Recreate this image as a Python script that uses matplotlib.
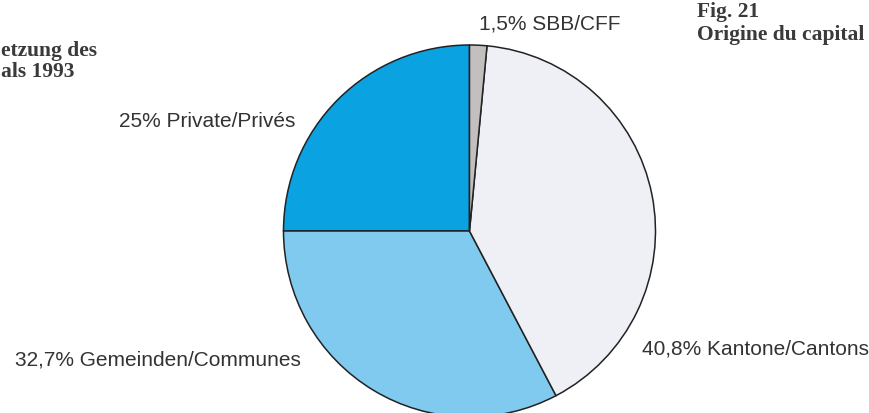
"""Kapital 1993 pie chart."""
import matplotlib
matplotlib.use("Agg")
import matplotlib.pyplot as plt

W, H = 869, 414

shares = [25.0, 32.7, 40.8, 1.5]
labels = ["25% Private/Privés", "32,7% Gemeinden/Communes",
          "40,8% Kantone/Cantons", "1,5% SBB/CFF"]
colors = ["#0ba2e2", "#80c9ef", "#eef0f6", "#c3bfbe"]

fig = plt.figure(figsize=(W / 100, H / 100), dpi=100)
ax = fig.add_axes([0, 0, 1, 1])
# y axis is inverted (pixel coords), so angles run mirrored:
# start at data -90 (= screen top) and go clockwise in data (= ccw on screen)
ax.pie(shares, colors=colors, startangle=-90, counterclock=False,
       center=(469.5, 232), radius=186,
       wedgeprops=dict(edgecolor="#222222", linewidth=1.1))
ax.set_xlim(0, W)
ax.set_ylim(H, 0)
ax.set_aspect("equal")
ax.axis("off")

sans = ["Liberation Sans", "DejaVu Sans"]
serif = ["Liberation Serif", "DejaVu Serif"]
tc = "#333333"

# slice labels (left x, baseline y in pixels)
pos = [(119, 127), (15, 366), (642, 355), (479, 30)]
for (x, y), lab in zip(pos, labels):
    ax.text(x, y, lab, ha="left", va="baseline", fontsize=15,
            family=sans, color=tc)

# titles (German one is cut off in the source scan, keep visible part)
tcol = "#3a3a3a"
ax.text(1, 56, "etzung des", ha="left", va="baseline", fontsize=15.5,
        family=serif, weight="bold", color=tcol)
ax.text(1, 77, "als 1993", ha="left", va="baseline", fontsize=15.5,
        family=serif, weight="bold", color=tcol)
ax.text(697, 17, "Fig. 21", ha="left", va="baseline", fontsize=15.5,
        family=serif, weight="bold", color=tcol)
ax.text(697, 40, "Origine du capital", ha="left", va="baseline",
        fontsize=15.5, family=serif, weight="bold", color=tcol)

fig.savefig("out.png", dpi=100)
